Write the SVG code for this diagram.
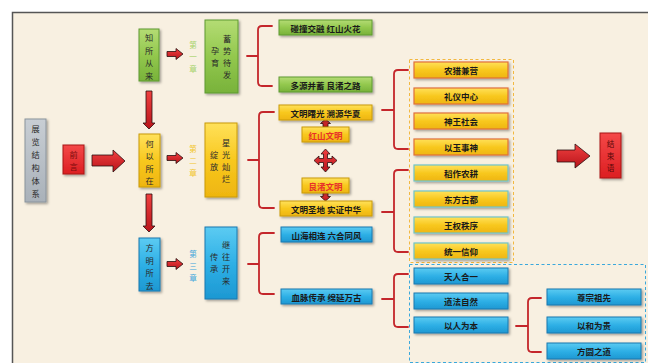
<svg xmlns="http://www.w3.org/2000/svg" width="648" height="363" viewBox="0 0 648 363">
<defs>
<filter id="sh" x="-20%" y="-20%" width="150%" height="150%"><feDropShadow dx="1.5" dy="1.5" stdDeviation="0.8" flood-color="#000" flood-opacity="0.35"/></filter>
<linearGradient id="gG" x1="0" y1="0" x2="0" y2="1"><stop offset="0" stop-color="#b4dc74"/><stop offset="0.5" stop-color="#93c84e"/><stop offset="1" stop-color="#78b23a"/></linearGradient>
<linearGradient id="gY" x1="0" y1="0" x2="0" y2="1"><stop offset="0" stop-color="#ffe15a"/><stop offset="0.5" stop-color="#f8c81e"/><stop offset="1" stop-color="#eeb510"/></linearGradient>
<linearGradient id="gB" x1="0" y1="0" x2="0" y2="1"><stop offset="0" stop-color="#5ccbf2"/><stop offset="0.5" stop-color="#2eb0e6"/><stop offset="1" stop-color="#1d98d2"/></linearGradient>
<linearGradient id="gR" x1="0" y1="0" x2="0" y2="1"><stop offset="0" stop-color="#f44848"/><stop offset="1" stop-color="#dc1f22"/></linearGradient>
<linearGradient id="gS" x1="0" y1="0" x2="0" y2="1"><stop offset="0" stop-color="#c8ced4"/><stop offset="1" stop-color="#a9b1b9"/></linearGradient>
<linearGradient id="gA" x1="0" y1="0" x2="0" y2="1"><stop offset="0" stop-color="#f04040"/><stop offset="1" stop-color="#b8141a"/></linearGradient>
<style>
.g{fill:url(#gG);stroke:#5f9a30;stroke-width:1;filter:url(#sh)}
.y{fill:url(#gY);stroke:#c99a0c;stroke-width:1;filter:url(#sh)}
.yo{fill:url(#gY);stroke:#e0703a;stroke-width:1.2;filter:url(#sh)}
.yt{fill:url(#gY);stroke:#70c4c8;stroke-width:1.2;filter:url(#sh)}
.b{fill:url(#gB);stroke:#1a78b0;stroke-width:1;filter:url(#sh)}
.r{fill:url(#gR);stroke:#a81414;stroke-width:1;filter:url(#sh)}
.s{fill:url(#gS);stroke:#8a939c;stroke-width:1;filter:url(#sh)}
text{font-family:"Noto Sans CJK SC","Noto Sans CJK TC",sans-serif;text-anchor:middle;dominant-baseline:central}
.t{font-size:8.5px;fill:#1a1a1a;font-weight:bold}
.v{font-size:8.2px;fill:#2a2a2a}
.vb{font-size:8.2px;fill:#2a2a2a}
.ch{font-size:7.6px}
.brace{fill:none;stroke:#c4262b;stroke-width:1.8;stroke-linecap:round}
.arr{fill:url(#gA);stroke:#2a1010;stroke-width:0.8}
</style>
</defs>
<rect width="648" height="363" fill="#ffffff"/>
<rect x="12.5" y="12.5" width="640" height="360" fill="#f8f0e1" stroke="#555" stroke-width="1.5"/>

<g id="connectors">
<path class="arr" d="M92,155 H113 V150 L125,161 L113,172 V166 H92 Z"/>
<path class="arr" d="M146,91 H152 V123 H155 L149,129 L143,123 H146 Z"/>
<path class="arr" d="M146,194 H152 V226 H155 L149,232 L143,226 H146 Z"/>
<path class="arr" d="M167,51.5 H176 V48.5 L183,54 L176,59.5 V56.5 H167 Z"/>
<path class="arr" d="M167,155.5 H176 V152.5 L183,158 L176,163.5 V160.5 H167 Z"/>
<path class="arr" d="M167,261.5 H176 V258.5 L183,264 L176,269.5 V266.5 H167 Z"/>
<path class="arr" d="M557,150 H575 V144 L590,156 L575,168 V162 H557 Z"/>
<path class="arr" d="M323,127 V123.5 H320.5 L325.5,119 L330.5,123.5 H328 V127 Z"/>
<path class="arr" d="M323,193 V196.5 H320.5 L325.5,201 L330.5,196.5 H328 V193 Z"/>
<path class="arr" d="M323.5,158.5 V154 H321 L325.5,149 L330,154 H327.5 V158.5 H332 V156 L337,160.5 L332,165 V162.5 H327.5 V167 H330 L325.5,172 L321,167 H323.5 V162.5 H319 V165 L314,160.5 L319,156 V158.5 Z"/>
<path class="brace" d="M272,26 H262 Q258,26 258,30 V56 H247 M258,56 V82 Q258,86 262,86 H272"/>
<path class="brace" d="M274,112 H263 Q259,112 259,116 V160 H248 M259,160 V204 Q259,208 263,208 H274"/>
<path class="brace" d="M274,233 H263 Q259,233 259,237 V264 H248 M259,264 V290 Q259,294 263,294 H274"/>
<path class="brace" d="M408,70 H398 Q394,70 394,74 V110 H382 M394,110 V145 Q394,149 398,149 H408"/>
<path class="brace" d="M408,170 H398 Q394,170 394,174 V212 H382 M394,212 V248 Q394,252 398,252 H408"/>
<path class="brace" d="M408,274 H398 Q394,274 394,278 V299 H382 M394,299 V323 Q394,327 398,327 H408"/>
<path class="brace" d="M541,298 H532 Q528,298 528,302 V326 H516 M528,326 V348 Q528,352 532,352 H541"/>
<rect x="409.5" y="59.5" width="104" height="203" fill="none" stroke="#f2b840" stroke-width="1" stroke-dasharray="3,2.5"/>
<rect x="409.5" y="264.5" width="236" height="98" fill="none" stroke="#3aa8dc" stroke-width="1" stroke-dasharray="3,2.5"/>
</g>

<g id="n-system"><rect class="s" x="25" y="119" width="21" height="83"/>
<text class="v"><tspan x="35.5" y="128">展</tspan><tspan x="35.5" y="141">览</tspan><tspan x="35.5" y="154">结</tspan><tspan x="35.5" y="167">构</tspan><tspan x="35.5" y="180">体</tspan><tspan x="35.5" y="193">系</tspan></text></g>
<g id="n-preface"><rect class="r" x="63" y="145" width="21" height="29"/>
<text class="v" style="fill:#7a0c0c"><tspan x="73.5" y="153.5">前</tspan><tspan x="73.5" y="165.5">言</tspan></text></g>

<g id="n-zhi"><rect class="g" x="139" y="29" width="20" height="52"/>
<text class="v"><tspan x="149" y="37">知</tspan><tspan x="149" y="49.5">所</tspan><tspan x="149" y="62">从</tspan><tspan x="149" y="74.5">来</tspan></text></g>
<g id="n-he"><rect class="y" x="139" y="134" width="21" height="53"/>
<text class="v"><tspan x="149.5" y="142.5">何</tspan><tspan x="149.5" y="155">以</tspan><tspan x="149.5" y="167.5">所</tspan><tspan x="149.5" y="180">在</tspan></text></g>
<g id="n-fang"><rect class="b" x="139" y="238" width="21" height="53"/>
<text class="v"><tspan x="149.5" y="247">方</tspan><tspan x="149.5" y="259.5">明</tspan><tspan x="149.5" y="272">所</tspan><tspan x="149.5" y="284.5">去</tspan></text></g>

<g id="l-ch1"><text class="ch" style="fill:#a6d26a"><tspan x="193" y="44">第</tspan><tspan x="193" y="56">一</tspan><tspan x="193" y="68">章</tspan></text></g>
<g id="l-ch2"><text class="ch" style="fill:#f2c52a"><tspan x="193" y="148">第</tspan><tspan x="193" y="160">二</tspan><tspan x="193" y="172">章</tspan></text></g>
<g id="l-ch3"><text class="ch" style="fill:#3ea6dc"><tspan x="193" y="253">第</tspan><tspan x="193" y="265">三</tspan><tspan x="193" y="277">章</tspan></text></g>

<g id="n-xu"><rect class="g" x="205" y="20" width="33" height="73"/>
<text class="vb"><tspan x="227" y="38">蓄</tspan><tspan x="227" y="50">势</tspan><tspan x="227" y="62">待</tspan><tspan x="227" y="74">发</tspan><tspan x="215" y="50">孕</tspan><tspan x="215" y="62">育</tspan></text></g>
<g id="n-xing"><rect class="y" x="205" y="123" width="32" height="74"/>
<text class="vb"><tspan x="226" y="142">星</tspan><tspan x="226" y="154">光</tspan><tspan x="226" y="166">灿</tspan><tspan x="226" y="178">烂</tspan><tspan x="214" y="154">绽</tspan><tspan x="214" y="166">放</tspan></text></g>
<g id="n-ji"><rect class="b" x="205" y="227" width="32" height="72"/>
<text class="vb"><tspan x="226" y="244">继</tspan><tspan x="226" y="256">往</tspan><tspan x="226" y="268">开</tspan><tspan x="226" y="280">来</tspan><tspan x="214" y="256">传</tspan><tspan x="214" y="268">承</tspan></text></g>

<g id="n-pz"><rect class="g" x="279" y="20" width="93" height="15"/><text class="t" x="325.5" y="27.5">碰撞交融 红山火花</text></g>
<g id="n-dy"><rect class="g" x="279" y="77" width="93" height="15"/><text class="t" x="325.5" y="84.5">多源并蓄 良渚之路</text></g>
<g id="n-wmsg"><rect class="y" x="279" y="105" width="93" height="15"/><text class="t" x="325.5" y="112.5">文明曙光 溯源华夏</text></g>
<g id="n-hs"><rect class="y" x="302" y="127" width="47" height="15"/><text class="t" x="325.5" y="134.5" style="fill:#e8302a">红山文明</text></g>
<g id="n-lz"><rect class="y" x="302" y="178" width="47" height="15"/><text class="t" x="325.5" y="185.5" style="fill:#e8302a">良渚文明</text></g>
<g id="n-wmsd"><rect class="y" x="280" y="201" width="92" height="15"/><text class="t" x="326" y="208.5">文明圣地 实证中华</text></g>
<g id="n-sh"><rect class="b" x="281" y="227" width="91" height="15"/><text class="t" x="326.5" y="234.5">山海相连 六合同风</text></g>
<g id="n-xm"><rect class="b" x="281" y="289" width="91" height="15"/><text class="t" x="326.5" y="296.5">血脉传承 绵延万古</text></g>

<g id="n-y1"><rect class="yo" x="414" y="62" width="94" height="16"/><text class="t" x="461" y="70">农猎兼营</text></g>
<g id="n-y2"><rect class="yo" x="414" y="88" width="94" height="16"/><text class="t" x="461" y="96">礼仪中心</text></g>
<g id="n-y3"><rect class="yo" x="414" y="113" width="94" height="16"/><text class="t" x="461" y="121">神王社会</text></g>
<g id="n-y4"><rect class="yo" x="414" y="139" width="94" height="16"/><text class="t" x="461" y="147">以玉事神</text></g>
<g id="n-y5"><rect class="yt" x="414" y="165" width="94" height="16"/><text class="t" x="461" y="173">稻作农耕</text></g>
<g id="n-y6"><rect class="yt" x="414" y="191" width="94" height="16"/><text class="t" x="461" y="199">东方古都</text></g>
<g id="n-y7"><rect class="yt" x="414" y="217" width="94" height="16"/><text class="t" x="461" y="225">王权秩序</text></g>
<g id="n-y8"><rect class="yt" x="414" y="243" width="94" height="16"/><text class="t" x="461" y="251">统一信仰</text></g>

<g id="n-b1"><rect class="b" x="414" y="268" width="94" height="16"/><text class="t" x="461" y="276">天人合一</text></g>
<g id="n-b2"><rect class="b" x="414" y="293" width="94" height="16"/><text class="t" x="461" y="301">道法自然</text></g>
<g id="n-b3"><rect class="b" x="414" y="317" width="94" height="16"/><text class="t" x="461" y="325">以人为本</text></g>
<g id="n-b4"><rect class="b" x="547" y="289" width="94" height="16"/><text class="t" x="594" y="297">尊宗祖先</text></g>
<g id="n-b5"><rect class="b" x="547" y="317" width="94" height="16"/><text class="t" x="594" y="325">以和为贵</text></g>
<g id="n-b6"><rect class="b" x="547" y="343" width="94" height="16"/><text class="t" x="594" y="351">方圆之道</text></g>

<g id="n-end"><rect class="r" x="600" y="133" width="21" height="45"/>
<text class="v" style="font-size:7.6px;fill:#5a0808"><tspan x="610.5" y="143">结</tspan><tspan x="610.5" y="155">束</tspan><tspan x="610.5" y="167">语</tspan></text></g>
</svg>
